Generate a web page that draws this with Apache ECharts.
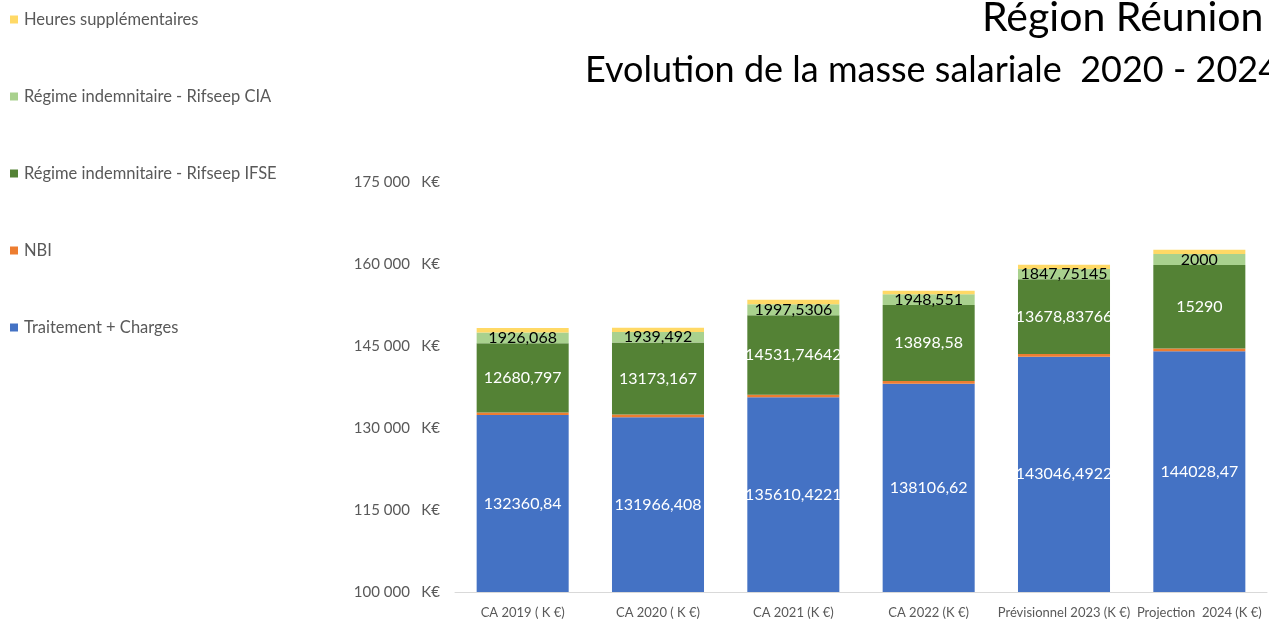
<!DOCTYPE html>
<html>
<head>
<meta charset="utf-8">
<script src="https://cdn.jsdelivr.net/npm/echarts@6/dist/echarts.min.js"></script>
<style>
html,body{margin:0;padding:0;background:#fff;}
#chart{width:1269px;height:619px;}
</style>
</head>
<body>
<div id="chart"></div>
<script>
var categories = ['CA 2019 ( K €)', 'CA 2020 ( K €)', 'CA 2021 (K €)', 'CA 2022 (K €)', 'Prévisionnel 2023 (K €)', 'Projection  2024 (K €)'];
var traitement = [132360.84, 131966.408, 135610.4221, 138106.62, 143046.4922, 144028.47];
var nbi = [480, 500, 480, 490, 500, 500];
var ifse = [12680.797, 13173.167, 14531.74642, 13898.58, 13678.83766, 15290];
var cia = [1926.068, 1939.492, 1997.5306, 1948.551, 1847.75145, 2000];
var heuresSup = [850, 780, 820, 650, 790, 800];
var legendOrder = ['Heures supplémentaires', 'Régime indemnitaire - Rifseep CIA', 'Régime indemnitaire - Rifseep IFSE', 'NBI', 'Traitement + Charges'];

var font = 'Lato';
function frNum(p) { return String(p.value).replace('.', ','); }

var chart = echarts.init(document.getElementById('chart'));
chart.setOption({
	animation: false,
	textStyle: { fontFamily: font },
	title: [
		{ text: 'Région Réunion', left: 977, top: -8, textStyle: { fontFamily: font, fontSize: 41, fontWeight: 'normal', color: '#000' } },
		{ text: 'Evolution de la masse salariale  2020 - 2024', left: 580, top: 47, textStyle: { fontFamily: font, fontSize: 36, fontWeight: 'normal', color: '#000' } }
	],
	legend: {
		orient: 'vertical', left: 5, top: 6,
		itemWidth: 8, itemHeight: 8, itemGap: 60,
		icon: 'rect',
		data: legendOrder,
		textStyle: { fontFamily: font, fontSize: 16.5, color: '#595959', padding: [0, 0, 0, 1] }
	},
	grid: { left: 455, right: 2, top: 182, bottom: 27 },
	xAxis: {
		type: 'category', data: categories,
		axisLine: { lineStyle: { color: '#d9d9d9' } },
		axisTick: { show: false },
		axisLabel: { fontFamily: font, fontSize: 13, color: '#595959', margin: 14, interval: 0 }
	},
	yAxis: {
		type: 'value', min: 100000, max: 175000, interval: 15000,
		splitLine: { show: false },
		axisLine: { show: false },
		axisTick: { show: false },
		axisLabel: {
			fontFamily: font, fontSize: 15, color: '#595959', margin: 15,
			formatter: function (v) { return String(v).replace(/\B(?=(\d{3})+(?!\d))/g, ' ') + '   K€'; }
		}
	},
	series: [
		{ name: 'Traitement + Charges', type: 'bar', stack: 't', data: traitement, barCategoryGap: '32%',
			itemStyle: { color: '#4472C4' },
			label: { show: true, position: 'inside', formatter: frNum, color: '#fff', fontSize: 16, fontFamily: font } },
		{ name: 'NBI', type: 'bar', stack: 't', data: nbi, itemStyle: { color: '#ED7D31' } },
		{ name: 'Régime indemnitaire - Rifseep IFSE', type: 'bar', stack: 't', data: ifse,
			itemStyle: { color: '#548235' },
			label: { show: true, position: 'inside', formatter: frNum, color: '#fff', fontSize: 16, fontFamily: font } },
		{ name: 'Régime indemnitaire - Rifseep CIA', type: 'bar', stack: 't', data: cia,
			itemStyle: { color: '#A9D18E' },
			label: { show: true, position: 'inside', formatter: frNum, color: '#000', fontSize: 16, fontFamily: font } },
		{ name: 'Heures supplémentaires', type: 'bar', stack: 't', data: heuresSup, itemStyle: { color: '#FFD966' } }
	]
});
</script>
</body>
</html>
